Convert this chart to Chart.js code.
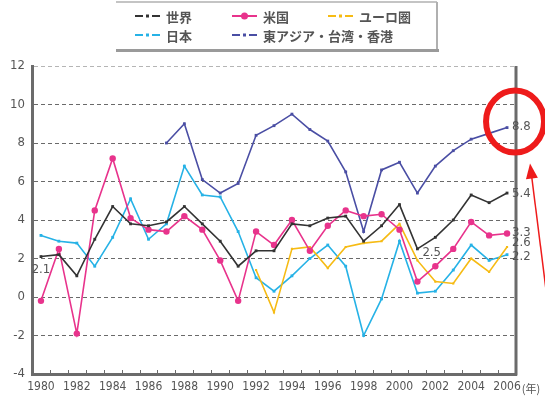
<!DOCTYPE html>
<html>
<head>
<meta charset="utf-8">
<script src="https://cdn.jsdelivr.net/npm/chart.js@4.4.1/dist/chart.umd.min.js"></script>
<style>
  html, body { margin: 0; padding: 0; background: #fff; }
  #wrap { width: 545px; height: 398px; }
</style>
</head>
<body>
<div id="wrap"><canvas id="growthChart" width="545" height="398"></canvas></div>
<script>
// Real GDP growth rate (%), 1980-2006
const years = ['1980', '1981', '1982', '1983', '1984', '1985', '1986', '1987', '1988', '1989',
               '1990', '1991', '1992', '1993', '1994', '1995', '1996', '1997', '1998', '1999',
               '2000', '2001', '2002', '2003', '2004', '2005', '2006'];

const world = [2.1, 2.2, 1.1, 3.0, 4.7, 3.8, 3.7, 3.9, 4.7, 3.8, 2.9, 1.6, 2.4, 2.4,
               3.8, 3.7, 4.1, 4.2, 2.9, 3.7, 4.8, 2.5, 3.1, 4.0, 5.3, 4.9, 5.4];
const usa = [-0.2, 2.5, -1.9, 4.5, 7.2, 4.1, 3.5, 3.4, 4.2, 3.5, 1.9, -0.2, 3.4, 2.7,
             4.0, 2.4, 3.7, 4.5, 4.2, 4.3, 3.5, 0.8, 1.6, 2.5, 3.9, 3.2, 3.3];
const euro = [null, null, null, null, null, null, null, null, null, null, null, null, 1.4, -0.8,
              2.5, 2.6, 1.5, 2.6, 2.8, 2.9, 3.8, 1.9, 0.8, 0.7, 2.0, 1.3, 2.6];
const japan = [3.2, 2.9, 2.8, 1.6, 3.1, 5.1, 3.0, 3.8, 6.8, 5.3, 5.2, 3.4, 1.0, 0.3,
               1.1, 2.0, 2.7, 1.6, -2.0, -0.1, 2.9, 0.2, 0.3, 1.4, 2.7, 1.9, 2.2];
const eastAsia = [null, null, null, null, null, null, null, 8.0, 9.0, 6.1, 5.4, 5.9, 8.4, 8.9,
                  9.5, 8.7, 8.1, 6.5, 3.4, 6.6, 7.0, 5.4, 6.8, 7.6, 8.2, 8.5, 8.8];

const seriesNames = ['世界', '米国', 'ユーロ圏', '日本', '東アジア・台湾・香港'];
const yTicks = [-4, -2, 0, 2, 4, 6, 8, 10, 12];

const colors = {
  world: '#333333',
  usa: '#e8338c',
  euro: '#f6bb14',
  japan: '#26b2e6',
  eastAsia: '#4a4ea4',
  text: '#555555',
  axis: '#6b6b6b',
  mark: '#ee1b1b'
};

const NUM_FONT = "'Liberation Sans Narrow', 'DejaVu Sans Condensed', sans-serif";
const JP_FONT = "'Noto Sans CJK JP', sans-serif";

// value labels: dataset index, point index, offsets
const valueLabels = [
  { ds: 0, i: 0, dx: 0, dy: 13, align: 'center' },
  { ds: 0, i: 21, dx: 5, dy: 4, align: 'left' },
  { ds: 4, i: 26, dx: 5, dy: -1, align: 'left' },
  { ds: 0, i: 26, dx: 5, dy: 1, align: 'left' },
  { ds: 1, i: 26, dx: 5, dy: -1, align: 'left' },
  { ds: 2, i: 26, dx: 5, dy: -4, align: 'left' },
  { ds: 3, i: 26, dx: 5, dy: 2, align: 'left' }
];

// legend grid: column / row for each dataset
const legendSlots = [[0, 0], [1, 0], [2, 0], [0, 1], [1, 1]];
const legendColX = [135, 232, 328];
const legendRowY = [16, 35];

function line(ctx, x1, y1, x2, y2) {
  ctx.beginPath();
  ctx.moveTo(x1, y1);
  ctx.lineTo(x2, y2);
  ctx.stroke();
}

const decorations = {
  id: 'decorations',
  afterDraw(chart) {
    const { ctx, chartArea: area, scales: { x } } = chart;
    ctx.save();

    // right frame
    ctx.strokeStyle = colors.axis;
    ctx.lineWidth = 3;
    line(ctx, area.right, area.top, area.right, area.bottom + 1.5);

    // small inward ticks on the bottom axis
    ctx.lineWidth = 1;
    const half = (x.getPixelForValue(1) - x.getPixelForValue(0)) / 2;
    for (let i = 0; i < years.length - 1; i++) {
      const px = Math.round(x.getPixelForValue(i) + half) + 0.5;
      line(ctx, px, area.bottom - 4, px, area.bottom);
    }

    // unit after the last year label
    ctx.font = '12px ' + NUM_FONT;
    const lastX = x.getPixelForValue(years.length - 1);
    const w = ctx.measureText(years[years.length - 1]).width;
    ctx.font = '11px ' + JP_FONT;
    ctx.fillStyle = colors.text;
    ctx.textBaseline = 'middle';
    ctx.textAlign = 'left';
    ctx.fillText('(年)', lastX + w / 2 + 1, 389);

    // value labels
    ctx.font = '13px ' + NUM_FONT;
    valueLabels.forEach(l => {
      const pt = chart.getDatasetMeta(l.ds).data[l.i];
      const v = chart.data.datasets[l.ds].data[l.i];
      ctx.textAlign = l.align;
      ctx.fillText(v.toFixed(1), pt.x + l.dx, pt.y + l.dy);
    });

    // legend box
    ctx.strokeStyle = '#c4c4c4';
    ctx.lineWidth = 2;
    line(ctx, 116, 2, 437, 2);
    ctx.strokeStyle = '#b0b0b0';
    line(ctx, 437, 2, 437, 50);
    ctx.strokeStyle = '#9a9a9a';
    ctx.lineWidth = 3;
    line(ctx, 116, 50.5, 439, 50.5);

    ctx.font = 'bold 13px ' + JP_FONT;
    chart.data.datasets.forEach((ds, k) => {
      const [c, r] = legendSlots[k];
      const sx = legendColX[c];
      const sy = legendRowY[r];
      ctx.strokeStyle = ds.borderColor;
      ctx.fillStyle = ds.borderColor;
      ctx.lineWidth = 2;
      if (k === 1) {
        line(ctx, sx, sy, sx + 25, sy);
        ctx.beginPath();
        ctx.arc(sx + 12.5, sy, 3.5, 0, Math.PI * 2);
        ctx.fill();
      } else {
        line(ctx, sx, sy, sx + 8, sy);
        line(ctx, sx + 17, sy, sx + 25, sy);
        ctx.fillRect(sx + 11, sy - 1.5, 3, 3);
      }
      ctx.fillStyle = colors.text;
      ctx.textAlign = 'left';
      ctx.fillText(ds.label, sx + 31, sy + 1);
    });

    // highlight on the latest East Asia value
    const last = chart.getDatasetMeta(4).data[years.length - 1];
    const cx = last.x + 8, cy = last.y - 6;
    ctx.strokeStyle = colors.mark;
    ctx.fillStyle = colors.mark;
    ctx.lineWidth = 6;
    ctx.beginPath();
    ctx.ellipse(cx, cy, 29, 31, 0, 0, Math.PI * 2);
    ctx.stroke();

    const tipX = cx + 15, tipY = cy + 42;
    const endX = tipX + 19, endY = tipY + 150;
    const ang = Math.atan2(endY - tipY, endX - tipX);
    ctx.lineWidth = 1.5;
    line(ctx, tipX + 10 * Math.cos(ang), tipY + 10 * Math.sin(ang), endX, endY);
    ctx.beginPath();
    ctx.moveTo(tipX, tipY);
    ctx.lineTo(tipX + 15 * Math.cos(ang) - 6 * Math.sin(ang), tipY + 15 * Math.sin(ang) + 6 * Math.cos(ang));
    ctx.lineTo(tipX + 15 * Math.cos(ang) + 6 * Math.sin(ang), tipY + 15 * Math.sin(ang) - 6 * Math.cos(ang));
    ctx.closePath();
    ctx.fill();

    ctx.restore();
  }
};

function makeSeries(label, data, color, style, radius) {
  return {
    label: label,
    data: data,
    borderColor: color,
    backgroundColor: color,
    borderWidth: 1.6,
    pointStyle: style,
    pointRadius: radius,
    pointHoverRadius: radius,
    pointBorderWidth: 0,
    tension: 0,
    spanGaps: false
  };
}

const ctx = document.getElementById('growthChart');
new Chart(ctx, {
  type: 'line',
  data: {
    labels: years,
    datasets: [
      makeSeries(seriesNames[0], world, colors.world, 'rect', 2),
      makeSeries(seriesNames[1], usa, colors.usa, 'circle', 3.2),
      makeSeries(seriesNames[2], euro, colors.euro, 'rect', 1.5),
      makeSeries(seriesNames[3], japan, colors.japan, 'rect', 2),
      makeSeries(seriesNames[4], eastAsia, colors.eastAsia, 'rect', 2)
    ]
  },
  options: {
    responsive: false,
    animation: false,
    layout: { padding: { top: 66, right: 29, left: 0, bottom: 0 } },
    plugins: {
      legend: { display: false },
      tooltip: { enabled: false }
    },
    scales: {
      x: {
        offset: true,
        afterFit: scale => { scale.height = 24; },
        grid: { display: true, drawOnChartArea: false, drawTicks: false, color: 'rgba(0,0,0,0)' },
        border: { display: true, color: colors.axis, width: 3 },
        ticks: {
          autoSkip: false,
          maxRotation: 0,
          padding: 6,
          color: colors.text,
          font: { family: NUM_FONT, size: 12 },
          callback: (v, i) => (i % 2 === 0 ? years[i] : '')
        }
      },
      y: {
        min: yTicks[0],
        max: yTicks[yTicks.length - 1],
        afterFit: scale => { scale.width = 32; },
        afterBuildTicks: scale => { scale.ticks = yTicks.map(v => ({ value: v })); },
        grid: {
          drawTicks: false,
          lineWidth: 1,
          color: c => (c.tick.value === 12 ? '#b5b5b5' : (c.tick.value === -4 ? 'rgba(0,0,0,0)' : '#6a6a6a'))
        },
        border: { display: true, color: colors.axis, width: 3, dash: [4, 3] },
        ticks: {
          padding: 7,
          color: colors.text,
          font: { family: NUM_FONT, size: 13 }
        }
      }
    }
  },
  plugins: [decorations]
});
</script>
</body>
</html>
